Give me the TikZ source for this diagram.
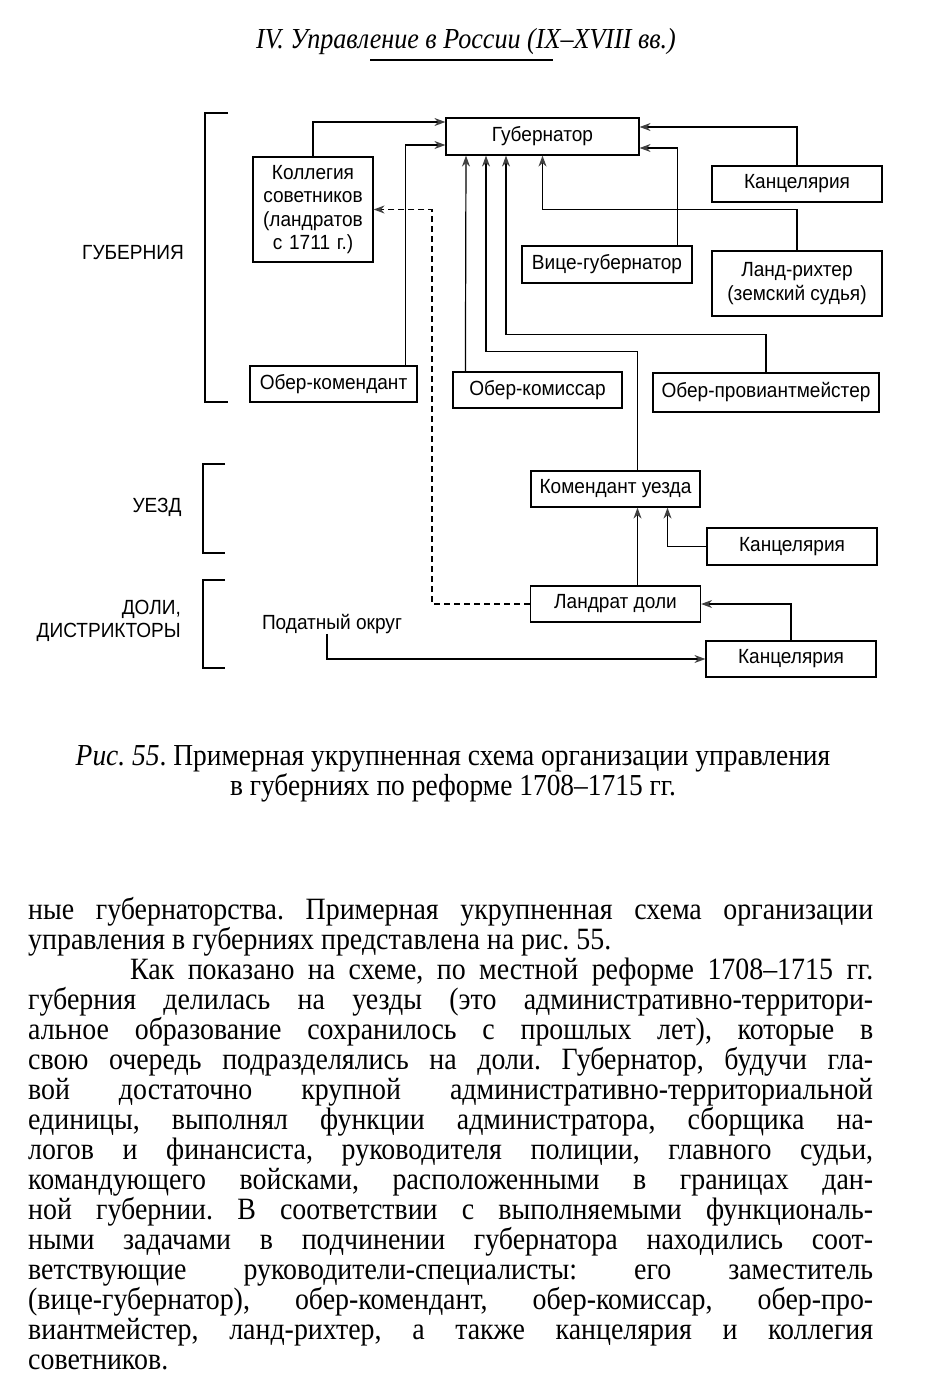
\documentclass[tikz,border=0pt]{standalone}
\usepackage{fontspec}
\setmainfont[FakeStretch=0.9]{Liberation Serif}
\newfontfamily\diagfont[FakeStretch=0.93]{Liberation Sans}
\usetikzlibrary{arrows.meta}
\frenchspacing

\begin{document}
\begin{tikzpicture}[x=1pt, y=-1pt,
    box/.style={rectangle, draw=black, line width=1.2pt, minimum width=170pt,
                minimum height=36pt, inner sep=2pt, align=center,
                font=\diagfont\fontsize{20.5}{23.5}\selectfont},
    lbl/.style={inner sep=0pt, font=\diagfont\fontsize{20.5}{23}\selectfont},
    arrow/.style={-{Stealth[length=11pt, width=8pt, color=black!75]}, line width=1.2pt},
    dasharrow/.style={arrow, dash pattern=on 6pt off 4pt},
    bracket/.style={line width=1.3pt},
    body/.style={inner sep=0pt, align=left, font=\fontsize{31}{30}\selectfont}
]
\fill[white] (0,0) rectangle (925,1392);

% page head
\node[inner sep=0pt, font=\itshape\fontsize{29}{30}\selectfont] (head) at (466,42)
  {IV. Управление в России (IX–XVIII вв.)};
\draw[line width=1.4pt] (370,60) -- (553,60);

% levels
\node[lbl] (gubl) at (133,253) {ГУБЕРНИЯ};
\node[lbl] (uezdl) at (157,507) {УЕЗД};
\node[lbl, align=right, anchor=east] (dolil) at (181,621) {ДОЛИ,\\ДИСТРИКТОРЫ};
\draw[bracket] (228,113) -- (205,113) -- (205,402) -- (228,402);
\draw[bracket] (225,464) -- (203,464) -- (203,553) -- (225,553);
\draw[bracket] (225,580) -- (203,580) -- (203,668) -- (225,668);

% boxes
\node[box, minimum width=193pt, minimum height=37pt] (gub) at (542.5,136.5) {Губернатор};
\node[box, minimum width=120pt, minimum height=105pt, text width=114pt] (kolleg) at (313,209.5)
  {Коллегия\\советников\\(ландратов\\с 1711 г.)};
\node[box] (kanc1) at (797,184) {Канцелярия};
\node[box, minimum height=37pt] (vice) at (607,264.5) {Вице-губернатор};
\node[box, minimum height=65pt] (land) at (797,283.5) {Ланд-рихтер\\(земский судья)};
\node[box, minimum width=167pt] (oberkom) at (333.5,384) {Обер-комендант};
\node[box, minimum width=169pt] (komis) at (537.5,390) {Обер-комиссар};
\node[box, minimum width=226pt, minimum height=39pt] (prov) at (766,392.5) {Обер-провиантмейстер};
\node[box, minimum width=169pt] (komuezd) at (615.5,489) {Комендант уезда};
\node[box, minimum height=37pt] (kanc2) at (792,546.5) {Канцелярия};
\node[box] (landrat) at (615.5,604) {Ландрат доли};
\node[box] (kanc3) at (791,659) {Канцелярия};
\node[lbl] (podat) at (332,624) {Податный округ};

% links
\draw[arrow] (kolleg.north) |- ([yshift=14.5pt]gub.west);
\draw[arrow] ([xshift=-12pt]oberkom.north east) |- ([yshift=-8.5pt]gub.west);
\draw[arrow] ([xshift=13pt]komis.north west) -- ([xshift=-76.5pt]gub.south);
\draw[arrow] ([xshift=22pt]komuezd.north) -- ++(0,-119) -| ([xshift=-56.5pt]gub.south);
\draw[arrow] (prov.north) -- ++(0,-38) -| ([xshift=-36.5pt]gub.south);
\draw[arrow] (land.north) -- ++(0,-41) -| (gub.south);
\draw[arrow] (kanc1.north) |- ([yshift=9.5pt]gub.east);
\draw[arrow] ([xshift=-15pt]vice.north east) |- ([yshift=-11.5pt]gub.east);
\draw[dasharrow] (landrat.west) -- ++(-98,0) |- (kolleg.east);
\draw[arrow] ([xshift=22pt]landrat.north) -- ([xshift=22pt]komuezd.south);
\draw[arrow] (kanc2.west) -| ([xshift=52pt]komuezd.south);
\draw[arrow] (kanc3.north) |- (landrat.east);
\draw[arrow] ([xshift=-5pt]podat.south) |- (kanc3.west);

% caption
\node[inner sep=0pt, align=center, font=\fontsize{30.5}{30}\selectfont] (capt) at (453,774)
  {\textit{Рис. 55}. Примерная укрупненная схема организации управления\\
   в губерниях по реформе 1708–1715 гг.};

% text
\node[body, anchor=base west] (text) at (28,1369)
  {\makebox[845pt][s]{ные губернаторства. Примерная укрупненная схема организации}\\
   управления в губерниях представлена на рис. 55.\\
   \makebox[845pt][s]{\hspace*{102pt}Как показано на схеме, по местной реформе 1708–1715 гг.}\\
   \makebox[845pt][s]{губерния делилась на уезды (это административно-территори-}\\
   \makebox[845pt][s]{альное образование сохранилось с прошлых лет), которые в}\\
   \makebox[845pt][s]{свою очередь подразделялись на доли. Губернатор, будучи гла-}\\
   \makebox[845pt][s]{вой достаточно крупной административно-территориальной}\\
   \makebox[845pt][s]{единицы, выполнял функции администратора, сборщика на-}\\
   \makebox[845pt][s]{логов и финансиста, руководителя полиции, главного судьи,}\\
   \makebox[845pt][s]{командующего войсками, расположенными в границах дан-}\\
   \makebox[845pt][s]{ной губернии. В соответствии с выполняемыми функциональ-}\\
   \makebox[845pt][s]{ными задачами в подчинении губернатора находились соот-}\\
   \makebox[845pt][s]{ветствующие руководители-специалисты: его заместитель}\\
   \makebox[845pt][s]{(вице-губернатор), обер-комендант, обер-комиссар, обер-про-}\\
   \makebox[845pt][s]{виантмейстер, ланд-рихтер, а также канцелярия и коллегия}\\
   советников.};

\end{tikzpicture}
\end{document}
